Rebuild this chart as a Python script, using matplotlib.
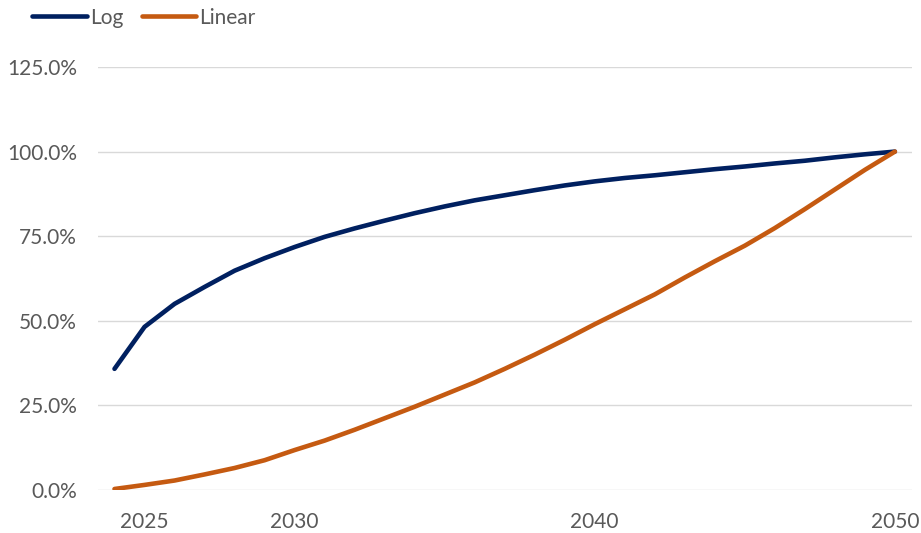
import matplotlib
matplotlib.use("Agg")
import matplotlib.pyplot as plt
from matplotlib.ticker import FuncFormatter

# Yearly path from 2024 to 2050, as share of the 2050 target
years = list(range(2024, 2051))
log_path = [35.8, 48.2, 55.0, 60.0, 64.8, 68.5, 71.8, 74.8, 77.3, 79.6, 81.8,
            83.8, 85.6, 87.1, 88.6, 90.0, 91.2, 92.2, 93.0, 93.9, 94.8,
            95.6, 96.5, 97.3, 98.3, 99.2, 100.0]
linear_path = [0.3, 1.5, 2.8, 4.6, 6.5, 8.8, 11.8, 14.6, 17.8, 21.2, 24.6,
               28.2, 31.8, 35.8, 40.0, 44.4, 49.0, 53.4, 57.8, 62.8, 67.6,
               72.2, 77.4, 83.0, 88.8, 94.6, 100.0]
x_ticks = [2025, 2030, 2040, 2050]
y_ticks = [0, 25, 50, 75, 100, 125]

NAVY = "#002060"
ORANGE = "#C55A11"
GREY = "#595959"

plt.rcParams['font.family'] = ['Lato', 'DejaVu Sans']

fig = plt.figure(figsize=(9.21, 5.33), dpi=100)
ax = fig.add_axes([98 / 921, 43 / 533, 814 / 921, 423 / 533])

ax.plot(years, log_path, color=NAVY, lw=3.3, label="Log", solid_capstyle="round")
ax.plot(years, linear_path, color=ORANGE, lw=3.3, label="Linear", solid_capstyle="round")

ax.set_xlim(2023.45, 2050.57)
ax.set_ylim(0, 125)
ax.set_xticks(x_ticks)
ax.set_yticks(y_ticks)
ax.yaxis.set_major_formatter(FuncFormatter(lambda v, _: f"{v:.1f}%"))

ax.grid(axis="y", color="#d9d9d9", lw=1)
ax.set_axisbelow(True)
for s in ax.spines.values():
    s.set_visible(False)
ax.tick_params(length=0, labelsize=15, colors=GREY)
ax.tick_params(axis="x", pad=16)
ax.tick_params(axis="y", pad=15)

fig.legend(loc="upper left", bbox_to_anchor=(22 / 921, 1.005), ncol=2, frameon=False,
           fontsize=15, handlelength=2.6, handletextpad=0.15, columnspacing=0.9,
           labelcolor=GREY, borderaxespad=0.1)

fig.savefig("out.png", dpi=100)
